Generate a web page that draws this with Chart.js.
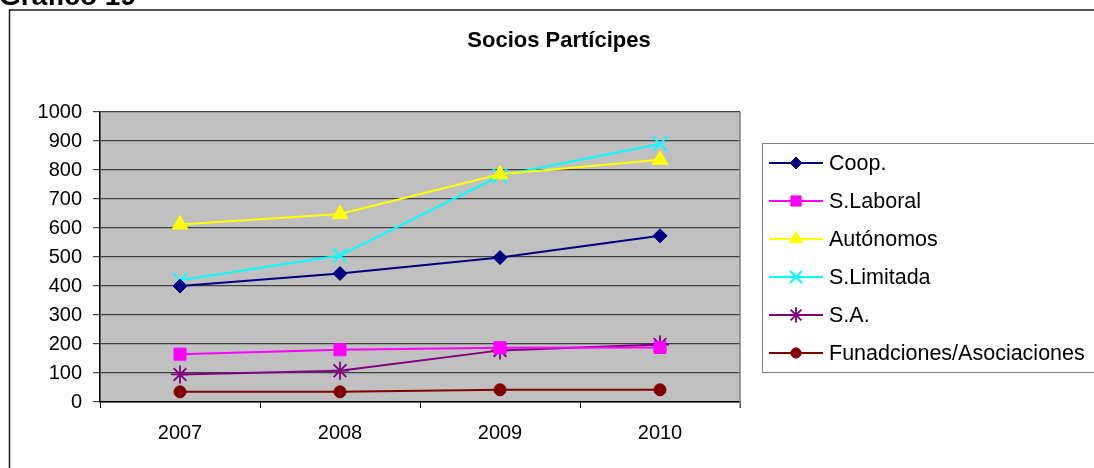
<!DOCTYPE html>
<html>
<head>
<meta charset="utf-8">
<script src="https://cdn.jsdelivr.net/npm/chart.js@4/dist/chart.umd.min.js"></script>
<style>
  html, body { margin: 0; padding: 0; background: #fff; }
  #wrap { width: 1094px; height: 468px; position: relative; overflow: hidden; }
  canvas { display: block; }
</style>
</head>
<body>
<div id="wrap"><canvas id="c" width="1094" height="468"></canvas></div>
<script>
const pageTitle = 'Gráfico 19';
const chartTitle = 'Socios Partícipes';
const categories = ['2007', '2008', '2009', '2010'];
const seriesNames = ['Coop.', 'S.Laboral', 'Autónomos', 'S.Limitada', 'S.A.', 'Funadciones/Asociaciones'];
const coop = [400, 443, 498, 573];
const sLaboral = [165, 180, 187, 188];
const autonomos = [612, 648, 785, 835];
const sLimitada = [420, 505, 780, 890];
const sA = [95, 108, 178, 198];
const fundaciones = [35, 35, 42, 42];
const yTicks = { min: 0, max: 1000, step: 100 };

const FONT = 'Arial, "Liberation Sans", sans-serif';
Chart.defaults.font.family = FONT;
Chart.defaults.color = '#000';

const styles = [
  { color: '#000080', point: 'rectRot', r: 7, bw: 1 },
  { color: '#FF00FF', point: 'rect', r: 8.5, bw: 1 },
  { color: '#FFFF00', point: 'triangle', r: 9, bw: 1 },
  { color: '#00FFFF', point: 'crossRot', r: 10, bw: 2 },
  { color: '#800080', point: 'star', r: 9, bw: 1.8 },
  { color: '#800000', point: 'circle', r: 6, bw: 1 }
];
const values = [coop, sLaboral, autonomos, sLimitada, sA, fundaciones];

const datasets = values.map((v, i) => ({
  label: seriesNames[i],
  data: v,
  borderColor: styles[i].color,
  backgroundColor: styles[i].color,
  borderWidth: 2,
  pointStyle: styles[i].point,
  pointRadius: styles[i].r,
  pointHoverRadius: styles[i].r,
  pointBorderWidth: styles[i].bw,
  pointBackgroundColor: styles[i].color,
  pointBorderColor: styles[i].color,
  tension: 0,
  fill: false
}));

const extras = {
  id: 'extras',
  beforeDraw(chart) {
    const ctx = chart.ctx, a = chart.chartArea;
    ctx.save();
    ctx.fillStyle = '#fff';
    ctx.fillRect(0, 0, chart.width, chart.height);
    ctx.fillStyle = '#C0C0C0';
    ctx.fillRect(a.left, a.top, a.right - a.left, a.bottom - a.top);
    ctx.restore();
  },
  afterDraw(chart) {
    const ctx = chart.ctx, a = chart.chartArea;
    ctx.save();
    ctx.strokeStyle = '#808080';
    ctx.lineWidth = 1.5;
    ctx.beginPath();
    ctx.moveTo(a.right, a.top);
    ctx.lineTo(a.right, a.bottom + 6);
    ctx.stroke();
    ctx.strokeStyle = '#1a1a1a';
    ctx.lineWidth = 1.5;
    ctx.beginPath();
    ctx.moveTo(9.5, 470);
    ctx.lineTo(9.5, 10);
    ctx.lineTo(1100, 10);
    ctx.stroke();
    ctx.fillStyle = '#000';
    ctx.font = 'bold 28px ' + FONT;
    ctx.textAlign = 'left';
    ctx.textBaseline = 'alphabetic';
    ctx.fillText(pageTitle, -1, 5);
    ctx.font = 'bold 22px ' + FONT;
    ctx.textAlign = 'center';
    ctx.textBaseline = 'middle';
    ctx.fillText(chartTitle, 559, 41);
    ctx.strokeStyle = '#808080';
    ctx.lineWidth = 1;
    ctx.strokeRect(762.5, 143.5, 400, 229);
    ctx.font = '21.5px ' + FONT;
    ctx.textAlign = 'left';
    ctx.textBaseline = 'middle';
    chart.data.datasets.forEach((ds, i) => {
      const y = 163 + i * 38;
      ctx.strokeStyle = ds.borderColor;
      ctx.lineWidth = 2;
      ctx.beginPath();
      ctx.moveTo(769, y);
      ctx.lineTo(823, y);
      ctx.stroke();
      ctx.fillStyle = ds.pointBackgroundColor;
      ctx.strokeStyle = ds.pointBorderColor;
      ctx.lineWidth = ds.pointBorderWidth;
      Chart.helpers.drawPoint(ctx, { pointStyle: ds.pointStyle, radius: ds.pointRadius * 0.85, rotation: 0, borderWidth: ds.pointBorderWidth }, 796, y);
      ctx.fillStyle = '#000';
      ctx.fillText(ds.label, 829, y + 1);
    });
    ctx.restore();
  }
};

new Chart(document.getElementById('c'), {
  type: 'line',
  data: { labels: categories, datasets },
  options: {
    responsive: false,
    animation: false,
    devicePixelRatio: 1,
    layout: { padding: { left: 0, right: 354, top: 112, bottom: 0 } },
    plugins: { legend: { display: false }, title: { display: false }, tooltip: { enabled: false } },
    scales: {
      x: {
        offset: true,
        afterFit(s) { s.height = 66; },
        grid: { offset: true, drawOnChartArea: false, drawTicks: true, tickLength: 6, color: '#000', lineWidth: 1 },
        border: { display: true, color: '#000', width: 1.5 },
        ticks: { font: { size: 20 }, color: '#000', padding: 13, maxRotation: 0 }
      },
      y: {
        min: yTicks.min,
        max: yTicks.max,
        afterFit(s) { s.width = 100; },
        grid: { color: '#404040', lineWidth: 1.2, drawTicks: true, tickLength: 7 },
        border: { display: true, color: '#000', width: 1.5 },
        ticks: { stepSize: yTicks.step, font: { size: 20 }, color: '#000', padding: 11, callback: (v) => String(v) }
      }
    }
  },
  plugins: [extras]
});
</script>
</body>
</html>
